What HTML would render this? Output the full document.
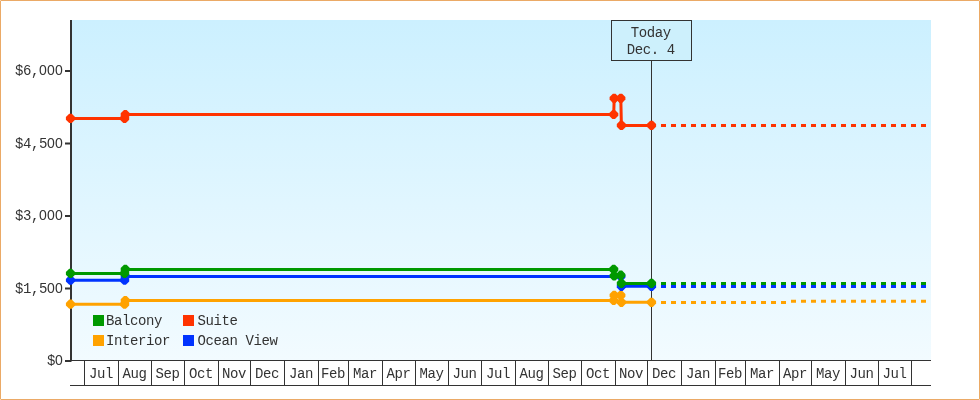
<!DOCTYPE html>
<html><head><meta charset="utf-8"><title>Price history</title>
<style>
html,body{margin:0;padding:0;background:#fff;}
body{width:980px;height:400px;overflow:hidden;position:relative;}
#frame{position:absolute;left:0;top:0;width:978px;height:398px;border:1px solid #EBAA66;border-radius:1px;background:#fff;}
svg{position:absolute;left:0;top:0;will-change:transform;}
text{font-family:"Liberation Mono",monospace;font-size:14px;letter-spacing:-0.4px;fill:#333333;}
.z{font-family:"Liberation Sans",sans-serif;letter-spacing:0.21px;}
</style></head><body>
<div id="frame"></div>
<svg width="980" height="400" viewBox="0 0 980 400">
<defs><linearGradient id="bg" x1="0" y1="0" x2="0" y2="1">
<stop offset="0" stop-color="#CCF0FF"/><stop offset="1" stop-color="#F2FBFF"/></linearGradient></defs>

<rect x="72" y="20" width="859" height="340" fill="url(#bg)"/>
<rect x="70" y="20" width="2" height="341.5" fill="#333333"/>
<rect x="65" y="360.0" width="6" height="2" fill="#333333"/>
<text x="63" y="365.0" text-anchor="end">$<tspan class="z">0</tspan></text>
<rect x="65" y="287.5" width="6" height="2" fill="#333333"/>
<text x="63" y="292.5" text-anchor="end">$1,5<tspan class="z">0</tspan><tspan class="z">0</tspan></text>
<rect x="65" y="215.0" width="6" height="2" fill="#333333"/>
<text x="63" y="220.0" text-anchor="end">$3,<tspan class="z">0</tspan><tspan class="z">0</tspan><tspan class="z">0</tspan></text>
<rect x="65" y="142.5" width="6" height="2" fill="#333333"/>
<text x="63" y="147.5" text-anchor="end">$4,5<tspan class="z">0</tspan><tspan class="z">0</tspan></text>
<rect x="65" y="70.0" width="6" height="2" fill="#333333"/>
<text x="63" y="75.0" text-anchor="end">$6,<tspan class="z">0</tspan><tspan class="z">0</tspan><tspan class="z">0</tspan></text>
<g fill="#333333" shape-rendering="crispEdges">
<rect x="70" y="360" width="861" height="1"/>
<rect x="70" y="385" width="861" height="1"/>
<rect x="84" y="360" width="1" height="26"/>
<rect x="118" y="360" width="1" height="26"/>
<rect x="151" y="360" width="1" height="26"/>
<rect x="184" y="360" width="1" height="26"/>
<rect x="218" y="360" width="1" height="26"/>
<rect x="250" y="360" width="1" height="26"/>
<rect x="284" y="360" width="1" height="26"/>
<rect x="318" y="360" width="1" height="26"/>
<rect x="348" y="360" width="1" height="26"/>
<rect x="382" y="360" width="1" height="26"/>
<rect x="415" y="360" width="1" height="26"/>
<rect x="448" y="360" width="1" height="26"/>
<rect x="481" y="360" width="1" height="26"/>
<rect x="515" y="360" width="1" height="26"/>
<rect x="548" y="360" width="1" height="26"/>
<rect x="581" y="360" width="1" height="26"/>
<rect x="615" y="360" width="1" height="26"/>
<rect x="647" y="360" width="1" height="26"/>
<rect x="681" y="360" width="1" height="26"/>
<rect x="715" y="360" width="1" height="26"/>
<rect x="745" y="360" width="1" height="26"/>
<rect x="779" y="360" width="1" height="26"/>
<rect x="811" y="360" width="1" height="26"/>
<rect x="845" y="360" width="1" height="26"/>
<rect x="878" y="360" width="1" height="26"/>
<rect x="911" y="360" width="1" height="26"/>
</g>
<text x="100.9" y="377.7" text-anchor="middle">Jul</text>
<text x="134.4" y="377.7" text-anchor="middle">Aug</text>
<text x="167.4" y="377.7" text-anchor="middle">Sep</text>
<text x="200.9" y="377.7" text-anchor="middle">Oct</text>
<text x="233.9" y="377.7" text-anchor="middle">Nov</text>
<text x="266.9" y="377.7" text-anchor="middle">Dec</text>
<text x="300.9" y="377.7" text-anchor="middle">Jan</text>
<text x="332.9" y="377.7" text-anchor="middle">Feb</text>
<text x="364.9" y="377.7" text-anchor="middle">Mar</text>
<text x="398.4" y="377.7" text-anchor="middle">Apr</text>
<text x="431.4" y="377.7" text-anchor="middle">May</text>
<text x="464.4" y="377.7" text-anchor="middle">Jun</text>
<text x="497.9" y="377.7" text-anchor="middle">Jul</text>
<text x="531.4" y="377.7" text-anchor="middle">Aug</text>
<text x="564.4" y="377.7" text-anchor="middle">Sep</text>
<text x="597.9" y="377.7" text-anchor="middle">Oct</text>
<text x="630.9" y="377.7" text-anchor="middle">Nov</text>
<text x="663.9" y="377.7" text-anchor="middle">Dec</text>
<text x="697.9" y="377.7" text-anchor="middle">Jan</text>
<text x="729.9" y="377.7" text-anchor="middle">Feb</text>
<text x="761.9" y="377.7" text-anchor="middle">Mar</text>
<text x="794.9" y="377.7" text-anchor="middle">Apr</text>
<text x="827.9" y="377.7" text-anchor="middle">May</text>
<text x="861.4" y="377.7" text-anchor="middle">Jun</text>
<text x="894.4" y="377.7" text-anchor="middle">Jul</text>
<rect x="651" y="60" width="1" height="300" fill="#333"/>
<rect x="611.5" y="20.5" width="80" height="40" fill="#CDF0FC" stroke="#333" stroke-width="1"/>
<text x="650.7" y="36.8" text-anchor="middle">Today</text>
<text x="650.7" y="54" text-anchor="middle">Dec. 4</text>
<polyline points="70.5,304.2 124.6,304.2 125.3,300.5 613.7,300.5 614.2,295.4 620.8,295.4 621.4,302.3 651.5,302.3" fill="none" stroke="#FFA200" stroke-width="3" stroke-linejoin="miter"/>
<path d="M661.0,302.4 L786.0,302.4" fill="none" stroke="#FFA200" stroke-width="3" stroke-dasharray="5 5"/>
<path d="M791.0,301.3 L926.0,301.3" fill="none" stroke="#FFA200" stroke-width="3" stroke-dasharray="5 5"/>
<polygon points="65.9,302.9 69.2,299.6 71.8,299.6 75.1,302.9 75.1,305.5 71.8,308.8 69.2,308.8 65.9,305.5" fill="#FFA200"/>
<polygon points="120.0,302.9 123.3,299.6 125.9,299.6 129.2,302.9 129.2,305.5 125.9,308.8 123.3,308.8 120.0,305.5" fill="#FFA200"/>
<polygon points="120.7,299.2 124.0,295.9 126.6,295.9 129.9,299.2 129.9,301.8 126.6,305.1 124.0,305.1 120.7,301.8" fill="#FFA200"/>
<polygon points="609.1,299.2 612.4,295.9 615.0,295.9 618.3,299.2 618.3,301.8 615.0,305.1 612.4,305.1 609.1,301.8" fill="#FFA200"/>
<polygon points="609.6,294.1 612.9,290.8 615.5,290.8 618.8,294.1 618.8,296.7 615.5,300.0 612.9,300.0 609.6,296.7" fill="#FFA200"/>
<polygon points="616.2,294.1 619.5,290.8 622.1,290.8 625.4,294.1 625.4,296.7 622.1,300.0 619.5,300.0 616.2,296.7" fill="#FFA200"/>
<polygon points="616.8,301.0 620.1,297.7 622.7,297.7 626.0,301.0 626.0,303.6 622.7,306.9 620.1,306.9 616.8,303.6" fill="#FFA200"/>
<polygon points="646.9,301.0 650.2,297.7 652.8,297.7 656.1,301.0 656.1,303.6 652.8,306.9 650.2,306.9 646.9,303.6" fill="#FFA200"/>
<polyline points="70.5,118.4 124.6,118.4 125.3,114.5 613.7,114.5 614.2,98.3 620.8,98.3 621.4,125.4 651.5,125.4" fill="none" stroke="#FF3300" stroke-width="3" stroke-linejoin="miter"/>
<path d="M661.0,125.5 L926.0,125.5" fill="none" stroke="#FF3300" stroke-width="3" stroke-dasharray="5 5"/>
<polygon points="65.9,117.1 69.2,113.8 71.8,113.8 75.1,117.1 75.1,119.7 71.8,123.0 69.2,123.0 65.9,119.7" fill="#FF3300"/>
<polygon points="120.0,117.1 123.3,113.8 125.9,113.8 129.2,117.1 129.2,119.7 125.9,123.0 123.3,123.0 120.0,119.7" fill="#FF3300"/>
<polygon points="120.7,113.2 124.0,109.9 126.6,109.9 129.9,113.2 129.9,115.8 126.6,119.1 124.0,119.1 120.7,115.8" fill="#FF3300"/>
<polygon points="609.1,113.2 612.4,109.9 615.0,109.9 618.3,113.2 618.3,115.8 615.0,119.1 612.4,119.1 609.1,115.8" fill="#FF3300"/>
<polygon points="609.6,97.0 612.9,93.7 615.5,93.7 618.8,97.0 618.8,99.6 615.5,102.9 612.9,102.9 609.6,99.6" fill="#FF3300"/>
<polygon points="616.2,97.0 619.5,93.7 622.1,93.7 625.4,97.0 625.4,99.6 622.1,102.9 619.5,102.9 616.2,99.6" fill="#FF3300"/>
<polygon points="616.8,124.1 620.1,120.8 622.7,120.8 626.0,124.1 626.0,126.7 622.7,130.0 620.1,130.0 616.8,126.7" fill="#FF3300"/>
<polygon points="646.9,124.1 650.2,120.8 652.8,120.8 656.1,124.1 656.1,126.7 652.8,130.0 650.2,130.0 646.9,126.7" fill="#FF3300"/>
<polyline points="70.5,280.2 124.6,280.2 125.3,276.4 613.7,276.4 620.8,276.4 621.4,286.3 651.5,286.3" fill="none" stroke="#0033FF" stroke-width="3" stroke-linejoin="miter"/>
<path d="M661.0,286.4 L926.0,286.4" fill="none" stroke="#0033FF" stroke-width="3" stroke-dasharray="5 5"/>
<polygon points="65.9,278.9 69.2,275.6 71.8,275.6 75.1,278.9 75.1,281.5 71.8,284.8 69.2,284.8 65.9,281.5" fill="#0033FF"/>
<polygon points="120.0,278.9 123.3,275.6 125.9,275.6 129.2,278.9 129.2,281.5 125.9,284.8 123.3,284.8 120.0,281.5" fill="#0033FF"/>
<polygon points="120.7,275.1 124.0,271.8 126.6,271.8 129.9,275.1 129.9,277.7 126.6,281.0 124.0,281.0 120.7,277.7" fill="#0033FF"/>
<polygon points="616.2,275.1 619.5,271.8 622.1,271.8 625.4,275.1 625.4,277.7 622.1,281.0 619.5,281.0 616.2,277.7" fill="#0033FF"/>
<polygon points="616.8,285.0 620.1,281.7 622.7,281.7 626.0,285.0 626.0,287.6 622.7,290.9 620.1,290.9 616.8,287.6" fill="#0033FF"/>
<polygon points="646.9,285.0 650.2,281.7 652.8,281.7 656.1,285.0 656.1,287.6 652.8,290.9 650.2,290.9 646.9,287.6" fill="#0033FF"/>
<polyline points="70.5,273.4 124.6,273.4 125.3,269.4 613.7,269.4 614.2,275.9 620.8,275.2 621.4,283.4 651.5,283.4" fill="none" stroke="#009900" stroke-width="3" stroke-linejoin="miter"/>
<path d="M661.0,283.5 L926.0,283.5" fill="none" stroke="#009900" stroke-width="3" stroke-dasharray="5 5"/>
<polygon points="65.9,272.1 69.2,268.8 71.8,268.8 75.1,272.1 75.1,274.7 71.8,278.0 69.2,278.0 65.9,274.7" fill="#009900"/>
<polygon points="120.0,272.1 123.3,268.8 125.9,268.8 129.2,272.1 129.2,274.7 125.9,278.0 123.3,278.0 120.0,274.7" fill="#009900"/>
<polygon points="120.7,268.1 124.0,264.8 126.6,264.8 129.9,268.1 129.9,270.7 126.6,274.0 124.0,274.0 120.7,270.7" fill="#009900"/>
<polygon points="609.1,268.1 612.4,264.8 615.0,264.8 618.3,268.1 618.3,270.7 615.0,274.0 612.4,274.0 609.1,270.7" fill="#009900"/>
<polygon points="609.6,274.6 612.9,271.3 615.5,271.3 618.8,274.6 618.8,277.2 615.5,280.5 612.9,280.5 609.6,277.2" fill="#009900"/>
<polygon points="616.2,273.9 619.5,270.6 622.1,270.6 625.4,273.9 625.4,276.5 622.1,279.8 619.5,279.8 616.2,276.5" fill="#009900"/>
<polygon points="616.8,282.1 620.1,278.8 622.7,278.8 626.0,282.1 626.0,284.7 622.7,288.0 620.1,288.0 616.8,284.7" fill="#009900"/>
<polygon points="646.9,282.1 650.2,278.8 652.8,278.8 656.1,282.1 656.1,284.7 652.8,288.0 650.2,288.0 646.9,284.7" fill="#009900"/>
<rect x="93.0" y="315.0" width="11" height="11" fill="#009900"/>
<text x="106.1" y="324.6">Balcony</text>
<rect x="183.0" y="315.0" width="11" height="11" fill="#FF3300"/>
<text x="197.4" y="324.6">Suite</text>
<rect x="93.0" y="335.0" width="11" height="11" fill="#FFA200"/>
<text x="106.1" y="344.6">Interior</text>
<rect x="183.0" y="335.0" width="11" height="11" fill="#0033FF"/>
<text x="197.4" y="344.6">Ocean View</text>
</svg></body></html>
